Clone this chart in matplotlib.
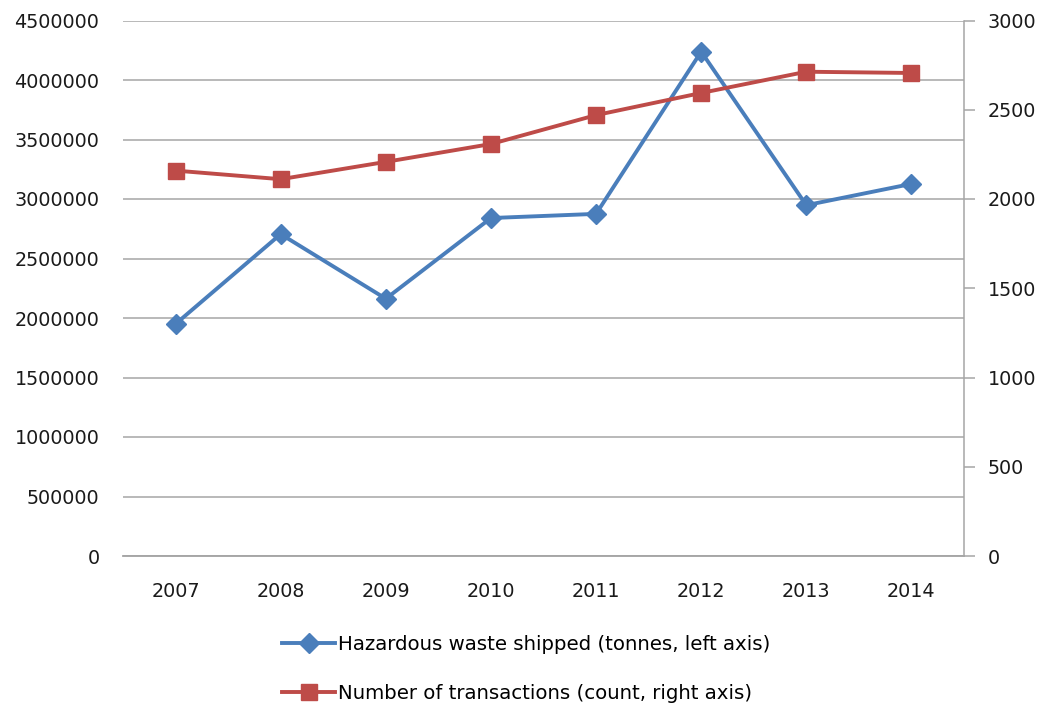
import matplotlib.pyplot as plt

years = ['2007', '2008', '2009', '2010', '2011', '2012', '2013', '2014']
waste_tonnes = [1950000, 2705000, 2162000, 2840000, 2875000, 4238000, 2948000, 3127000]
transactions = [2159, 2111, 2208, 2308, 2470, 2594, 2713, 2706]

blue = '#4A7EBB'
red = '#BE4B48'
grid = '#A6A6A6'

plt.rcParams['font.family'] = 'DejaVu Sans'

fig = plt.figure(figsize=(10.49, 7.08), dpi=100)
ax = fig.add_axes([123 / 1049, 1 - 556 / 708, (964 - 123) / 1049, (556 - 20.5) / 708])
ax2 = ax.twinx()

x = list(range(len(years)))
l1, = ax.plot(x, waste_tonnes, color=blue, lw=2.8, marker='D', ms=10,
              label='Hazardous waste shipped (tonnes, left axis)', zorder=3)
l2, = ax2.plot(x, transactions, color=red, lw=2.8, marker='s', ms=11.5,
               label='Number of transactions (count, right axis)', zorder=3)

ax.set_xlim(-0.5, 7.5)
ax.set_ylim(0, 4500000)
ax.set_yticks(range(0, 4500001, 500000))
ax.set_yticklabels([str(v) for v in range(0, 4500001, 500000)])
ax2.set_ylim(0, 3000)
ax2.set_yticks(range(0, 3001, 500))

ax.set_xticks(x)
ax.set_xticklabels(years)
ax.yaxis.grid(True, color=grid, lw=1.1)
ax.set_axisbelow(True)

for a in (ax, ax2):
    for s in ('top', 'left', 'right'):
        a.spines[s].set_visible(False)
    a.spines['bottom'].set_color(grid)
    a.spines['bottom'].set_linewidth(1.1)
ax2.spines['right'].set_visible(True)
ax2.spines['right'].set_color(grid)
ax2.spines['right'].set_linewidth(1.1)

ax.tick_params(axis='y', length=0, pad=17, labelsize=13.8, colors='#1a1a1a')
ax.tick_params(axis='x', length=0, pad=19, labelsize=13.8, colors='#1a1a1a')
ax2.tick_params(axis='y', length=8, width=1.1, color=grid, pad=9, labelsize=13.8,
                labelcolor='#1a1a1a')

fig.legend(handles=[l1, l2], loc='upper left', bbox_to_anchor=(282 / 1049, 1 - 635 / 708),
           ncol=1, frameon=False, fontsize=14.2, handlelength=2.7, handletextpad=0.15,
           labelspacing=1.5, borderaxespad=0, borderpad=0)

fig.savefig('out.png', dpi=100)
